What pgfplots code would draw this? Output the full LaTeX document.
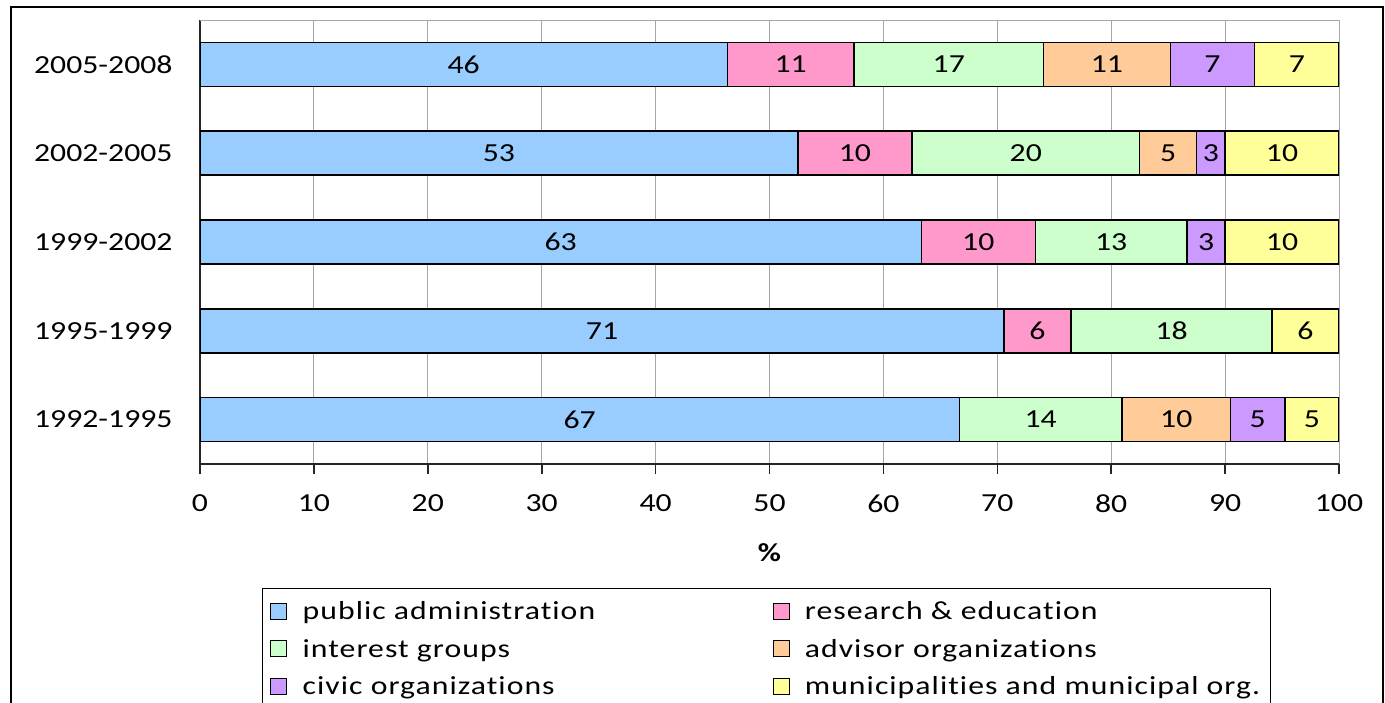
\documentclass[border=0pt]{standalone}
\usepackage{fontspec}
\setmainfont{Carlito}[FakeStretch=1.22, Ligatures=NoCommon]
\newfontfamily\legfont{Carlito}[FakeStretch=1.22, LetterSpace=4, Ligatures=NoCommon]
\usepackage{pgfplots}
\pgfplotsset{compat=1.18}

\definecolor{pubadm}{HTML}{99CCFF}
\definecolor{research}{HTML}{FF99CC}
\definecolor{interest}{HTML}{CCFFCC}
\definecolor{advisor}{HTML}{FFCC99}
\definecolor{civic}{HTML}{CC99FF}
\definecolor{municip}{HTML}{FFFF99}

\newcommand\cf{\fontsize{26bp}{31bp}\selectfont}

\begin{document}
\begin{tikzpicture}
\useasboundingbox (0bp,0bp) rectangle (1385bp,-703bp);
\clip (0bp,0bp) rectangle (1385bp,-703bp);
\draw[line width=2bp] (11bp,-7bp) rectangle (1383bp,-720bp);
\begin{axis}[
  at={(200bp,-464bp)}, anchor=south west,
  scale only axis, width=1139bp, height=444bp,
  xbar stacked, bar width=44bp,
  xmin=0, xmax=100, ymin=0.5, ymax=5.5,
  axis x line*=bottom, axis y line*=left,
  axis line style={line width=1.6bp, black!85},
  tick align=outside, major tick length=10bp,
  xtick={0,10,...,100},
  x tick style={line width=1.6bp, black!85},
  xmajorgrids, grid style={gray!70, line width=1bp},
  ytick={1,...,5},
  yticklabels={1992-1995,1995-1999,1999-2002,2002-2005,2005-2008},
  y tick style={draw=none},
  extra y ticks={0.5,1.5,2.5,3.5,4.5,5.5},
  extra y tick labels={},
  extra y tick style={tick style={draw=black!85, line width=1.6bp}},
  tick label style={font=\cf},
  yticklabel style={xshift=-14bp},
  xticklabel style={yshift=-17bp},
  /pgf/number format/assume math mode=true,
  xlabel={\textbf{\%}}, xlabel style={font=\cf, yshift=-24bp},
  point meta=explicit symbolic,
  nodes near coords,
  every node near coord/.append style={font=\cf, text=black, anchor=center},
  legend columns=2,
  legend style={at={(axis description cs:0.0544,-0.2793)}, anchor=north west,
    draw=black, line width=1bp, font=\cf\legfont, row sep=14bp,
    inner xsep=8bp, inner ysep=11bp},
  legend cell align=left,
  legend image code/.code={\draw[#1, draw=black, line width=1bp] (1bp,-8bp) rectangle (17bp,8bp); \path (30bp,0bp);},
]
\addplot[fill=pubadm, draw=black, line width=1.5bp] coordinates {
  (66.667,1) [67] (70.588,2) [71] (63.333,3) [63] (52.5,4) [53] (46.296,5) [46]};
\addlegendentry{\makebox[468bp][l]{public administration}}
\addplot[fill=research, draw=black, line width=1.5bp] coordinates {
  (0,1) [] (5.882,2) [6] (10,3) [10] (10,4) [10] (11.111,5) [11]};
\addlegendentry{\makebox[456bp][l]{research \& education}}
\addplot[fill=interest, draw=black, line width=1.5bp] coordinates {
  (14.286,1) [14] (17.647,2) [18] (13.333,3) [13] (20,4) [20] (16.667,5) [17]};
\addlegendentry{\makebox[468bp][l]{interest groups}}
\addplot[fill=advisor, draw=black, line width=1.5bp] coordinates {
  (9.524,1) [10] (0,2) [] (0,3) [] (5,4) [5] (11.111,5) [11]};
\addlegendentry{\makebox[456bp][l]{advisor organizations}}
\addplot[fill=civic, draw=black, line width=1.5bp] coordinates {
  (4.762,1) [5] (0,2) [] (3.333,3) [3] (2.5,4) [3] (7.407,5) [7]};
\addlegendentry{\makebox[468bp][l]{civic organizations}}
\addplot[fill=municip, draw=black, line width=1.5bp] coordinates {
  (4.761,1) [5] (5.882,2) [6] (10,3) [10] (10,4) [10] (7.407,5) [7]};
\addlegendentry{\makebox[456bp][l]{municipalities and municipal org.}}
\draw[gray!70, line width=1bp] (rel axis cs:0,1) -- (rel axis cs:1,1);
\end{axis}
\end{tikzpicture}
\end{document}
